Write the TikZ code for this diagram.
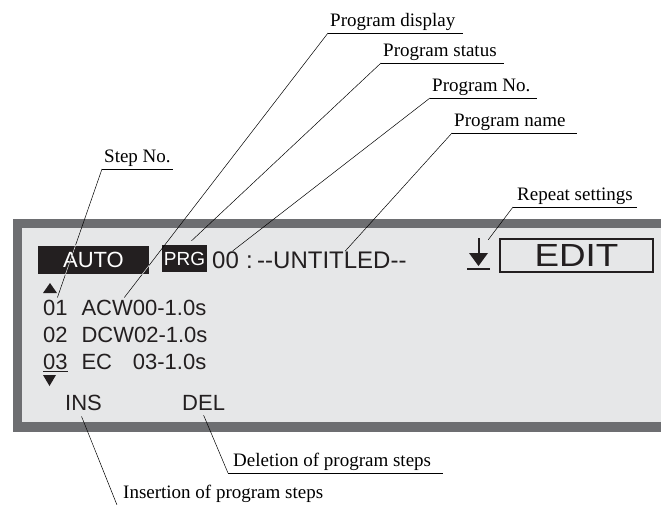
\documentclass[tikz,border=0pt]{standalone}
\usepackage{graphicx}
\usepackage{fontspec}
\setmainfont{Liberation Serif}
\newfontfamily\lcdfont[Ligatures=TeXOff]{Liberation Sans}
\usetikzlibrary{positioning}
\definecolor{frameColor}{HTML}{6D6E71}
\definecolor{screenColor}{HTML}{E6E7E8}
\definecolor{lcdText}{HTML}{231F20}

\begin{document}
\begin{tikzpicture}[
    x=1pt, y=-1pt,
    callout/.style={
        anchor=south west,
        inner xsep=2pt,
        inner ysep=1.5pt,
        text depth=4.5pt,
        font=\fontsize{19}{22}\selectfont,
    },
    leader/.style={
        line width=0.5pt,
        black,
    },
    lcd/.style={
        anchor=base west,
        inner sep=0pt,
        text=lcdText,
        font=\lcdfont\fontsize{22}{24}\selectfont,
    },
    inverse/.style={
        fill=lcdText,
        text=white,
        inner sep=0pt,
    },
]
\useasboundingbox (0,0) rectangle (661,504);

% ===== Pantalla =====
\fill[frameColor] (13,219) rectangle (661,432);
\fill[screenColor] (22,228) rectangle (661,422);

% ===== Linea superior =====
\node[inverse, minimum width=111pt, minimum height=28pt,
      font=\lcdfont\fontsize{22}{24}\selectfont] (auto) at (93.5,260) {AUTO};
\node[inverse, minimum width=45pt, minimum height=27pt,
      font=\lcdfont\fontsize{19}{21}\selectfont] (prg) at (184.5,258.5) {PRG};
\node[lcd, font=\lcdfont\fontsize{24}{26}\selectfont] (prgnum) at (212,268) {00};
\node[lcd, font=\lcdfont\fontsize{24}{26}\selectfont] (colon) at (246,268) {:};
\node[lcd, font=\lcdfont\fontsize{24}{26}\selectfont] (prgname) at (257,268) {--UNTITLED--};

% simbolo de repeticion
\node[minimum width=24pt, minimum height=32pt, inner sep=0pt] (rptsym) at (479,254) {};
\draw[line width=1.5pt, lcdText] (479,238) -- (479,256);
\fill[lcdText] (469,253) -- (488,253) -- (478.5,266) -- cycle;
\draw[line width=2pt, lcdText] (467,269) -- (490,269);

\node[draw=lcdText, line width=1.8pt, minimum width=153pt, minimum height=33pt,
      inner sep=0pt, text=lcdText,
      font=\lcdfont\fontsize{32}{34}\selectfont] (edit) at (576.5,255.5) {\scalebox{1.15}[1]{EDIT}};

% ===== Pasos =====
\fill[lcdText] (43,293) -- (57,293) -- (50,283) -- cycle;
\node[lcd] (n01) at (43,315) {01};
\node[lcd, base right=13.5pt of n01] (acw) {ACW00-1.0s};
\node[lcd] (n02) at (43,342) {02};
\node[lcd, base right=13.5pt of n02] (dcw) {DCW02-1.0s};
\node[lcd] (n03) at (43,369) {03};
\node[lcd, base right=13.5pt of n03] (ec) {EC};
\node[lcd, base right=20.4pt of ec] (ecval) {03-1.0s};
\draw[line width=1.6pt, lcdText] ([yshift=-2pt]n03.south west) -- ([yshift=-2pt]n03.south east);
\fill[lcdText] (43,375) -- (56,375) -- (49.5,386) -- cycle;

\node[lcd] (ins) at (65,410) {INS};
\node[lcd] (del) at (182,410) {DEL};

% ===== Etiquetas =====
\node[callout] (lblDisplay) at (328,33) {Program display};
\node[callout] (lblStatus) at (381,63) {Program status};
\node[callout] (lblNumber) at (430,98) {Program No.};
\node[callout] (lblName) at (452,133) {Program name};
\node[callout] (lblStep) at (102,169) {Step No.};
\node[callout, inner xsep=4pt] (lblRepeat) at (513,207) {Repeat settings};
\node[callout, inner xsep=5pt] (lblDelete) at (228,473) {Deletion of program steps};
\node[callout, inner xsep=6pt] (lblInsert) at (117,505) {Insertion of program steps};

% subrayados
\draw[leader] (lblDisplay.south west) -- ++(135,0);
\draw[leader] (lblStatus.south west) -- ++(123,0);
\draw[leader] (lblNumber.south west) -- ++(107,0);
\draw[leader] (lblName.south west) -- ++(125,0);
\draw[leader] (lblStep.south west) -- ++(71,0);
\draw[leader] (lblRepeat.south west) -- ++(124,0);
\draw[leader] (lblDelete.south west) -- ++(215,0);
\draw[leader] (lblInsert.south west) -- ++(215,0);

% ===== Lineas de referencia =====
\draw[leader] (lblDisplay.south west) -- ([xshift=43pt, yshift=2pt]acw.north west);
\draw[leader] (lblStatus.south west) -- ([xshift=7pt, yshift=4pt]prg.north);
\draw[leader] (lblNumber.south west) -- ([xshift=7pt]prgnum.north);
\draw[leader] (lblName.south west) -- ([xshift=88pt]prgname.north west);
\draw[leader] (lblStep.south west) -- ([xshift=2pt, yshift=2pt]n01.north);
\draw[leader] (lblRepeat.south west) -- ([xshift=-3pt, yshift=-2pt]rptsym.north east);
\draw[leader] (lblDelete.south west) -- ([yshift=-5pt]del.south);
\draw[leader] (lblInsert.south west) -- ([xshift=-2pt, yshift=-6pt]ins.south);

% tramo blanco sobre AUTO
\begin{scope}
    \clip (auto.south west) rectangle (auto.north east);
    \draw[leader, white] (lblStep.south west) -- ([xshift=2pt, yshift=2pt]n01.north);
    \draw[leader, white] (lblDisplay.south west) -- ([xshift=43pt, yshift=2pt]acw.north west);
\end{scope}

\end{tikzpicture}
\end{document}
